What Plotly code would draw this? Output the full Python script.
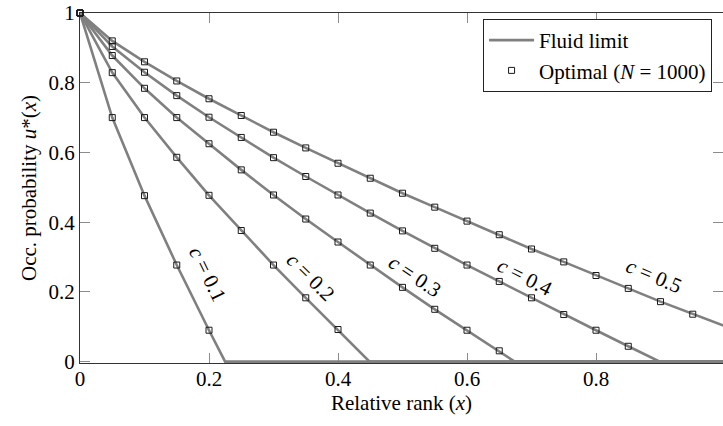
import plotly.graph_objects as go

# ---- data ----
c_values = [0.1, 0.2, 0.3, 0.4, 0.5]
curve_labels = ["<i>c</i> = 0.1", "<i>c</i> = 0.2", "<i>c</i> = 0.3", "<i>c</i> = 0.4", "<i>c</i> = 0.5"]

# fluid limit curves (x, u)
x_c01 = [0, 0.05, 0.10, 0.15, 0.20, 0.225, 1.0]
u_c01 = [1, 0.700, 0.476, 0.277, 0.090, 0, 0]

x_c02 = [0, 0.05, 0.10, 0.15, 0.20, 0.25, 0.30, 0.35, 0.40, 0.449, 1.0]
u_c02 = [1, 0.829, 0.700, 0.586, 0.477, 0.376, 0.277, 0.183, 0.092, 0, 0]

x_c03 = [0, 0.05, 0.10, 0.15, 0.20, 0.25, 0.30, 0.35, 0.40, 0.45, 0.50, 0.55, 0.60, 0.65, 0.674, 1.0]
u_c03 = [1, 0.878, 0.784, 0.700, 0.625, 0.550, 0.478, 0.409, 0.343, 0.277, 0.213, 0.150, 0.090, 0.031, 0, 0]

x_c04 = [0, 0.05, 0.10, 0.15, 0.20, 0.25, 0.30, 0.35, 0.40, 0.45, 0.50, 0.55, 0.60, 0.65, 0.70, 0.75, 0.80, 0.85, 0.899, 1.0]
u_c04 = [1, 0.904, 0.830, 0.763, 0.701, 0.643, 0.585, 0.531, 0.478, 0.426, 0.375, 0.325, 0.277, 0.230, 0.183, 0.135, 0.090, 0.044, 0, 0]

x_c05 = [0, 0.05, 0.10, 0.15, 0.20, 0.25, 0.30, 0.35, 0.40, 0.45, 0.50, 0.55, 0.60, 0.65, 0.70, 0.75, 0.80, 0.85, 0.90, 0.95, 1.0]
u_c05 = [1, 0.920, 0.860, 0.805, 0.754, 0.706, 0.658, 0.613, 0.569, 0.526, 0.483, 0.443, 0.403, 0.364, 0.323, 0.286, 0.247, 0.210, 0.172, 0.136, 0.102]

# optimal policy (N = 1000) markers
opt_x_c01 = [0, 0.05, 0.10, 0.15, 0.20]
opt_u_c01 = [1, 0.700, 0.476, 0.277, 0.090]
opt_x_c02 = [0, 0.05, 0.10, 0.15, 0.20, 0.25, 0.30, 0.35, 0.40]
opt_u_c02 = [1, 0.829, 0.700, 0.586, 0.477, 0.376, 0.277, 0.183, 0.092]
opt_x_c03 = [0, 0.05, 0.10, 0.15, 0.20, 0.25, 0.30, 0.35, 0.40, 0.45, 0.50, 0.55, 0.60, 0.65]
opt_u_c03 = [1, 0.878, 0.784, 0.700, 0.625, 0.550, 0.478, 0.409, 0.343, 0.277, 0.213, 0.150, 0.090, 0.031]
opt_x_c04 = [0, 0.05, 0.10, 0.15, 0.20, 0.25, 0.30, 0.35, 0.40, 0.45, 0.50, 0.55, 0.60, 0.65, 0.70, 0.75, 0.80, 0.85]
opt_u_c04 = [1, 0.904, 0.830, 0.763, 0.701, 0.643, 0.585, 0.531, 0.478, 0.426, 0.375, 0.325, 0.277, 0.230, 0.183, 0.135, 0.090, 0.044]
opt_x_c05 = [0, 0.05, 0.10, 0.15, 0.20, 0.25, 0.30, 0.35, 0.40, 0.45, 0.50, 0.55, 0.60, 0.65, 0.70, 0.75, 0.80, 0.85, 0.90, 0.95]
opt_u_c05 = [1, 0.920, 0.860, 0.805, 0.754, 0.706, 0.658, 0.613, 0.569, 0.526, 0.483, 0.443, 0.403, 0.364, 0.323, 0.286, 0.247, 0.210, 0.172, 0.136]

# label positions (data coords) and angles
label_x = [0.198, 0.358, 0.519, 0.690, 0.890]
label_y = [0.252, 0.244, 0.246, 0.244, 0.246]
label_angle = [64, 45, 34, 27, 23]

x_ticks = [0, 0.2, 0.4, 0.6, 0.8, 1.0]
x_tick_text = ["0", "0.2", "0.4", "0.6", "0.8", "1"]
y_ticks = [0, 0.2, 0.4, 0.6, 0.8, 1.0]
y_tick_text = ["0", "0.2", "0.4", "0.6", "0.8", "1"]

FONT = "Liberation Serif"
FS = 21
LINE_COLOR = "#808080"

fluid = [(x_c01, u_c01), (x_c02, u_c02), (x_c03, u_c03), (x_c04, u_c04), (x_c05, u_c05)]
optimal = [(opt_x_c01, opt_u_c01), (opt_x_c02, opt_u_c02), (opt_x_c03, opt_u_c03),
           (opt_x_c04, opt_u_c04), (opt_x_c05, opt_u_c05)]

fig = go.Figure()
for i, (xs, us) in enumerate(fluid):
    fig.add_trace(go.Scatter(
        x=xs, y=us, mode="lines",
        line=dict(color=LINE_COLOR, width=2.6),
        name="Fluid limit", legendgroup="fluid", showlegend=(i == 0),
        hoverinfo="skip"))
for i, (xs, us) in enumerate(optimal):
    fig.add_trace(go.Scatter(
        x=xs, y=us, mode="markers",
        marker=dict(symbol="square-open", size=6, color="#1a1a1a", line=dict(width=1, color="#1a1a1a")),
        name="Optimal (<i>N</i> = 1000)", legendgroup="opt", showlegend=(i == 0),
        cliponaxis=False, hoverinfo="skip"))

for xl, yl, txt, ang in zip(label_x, label_y, curve_labels, label_angle):
    fig.add_annotation(x=xl, y=yl, text=txt, textangle=ang, showarrow=False,
                       xanchor="center", yanchor="middle",
                       font=dict(family=FONT, size=FS, color="black"))

axis_common = dict(
    showline=True, linecolor="#333333", linewidth=1, mirror="ticks",
    ticks="inside", ticklen=10, tickwidth=1, tickcolor="#8c8c8c",
    showgrid=False, zeroline=False, layer="below traces",
    tickfont=dict(family=FONT, size=FS, color="black"),
)

fig.update_xaxes(range=[0, 0.9969], tickvals=x_ticks, ticktext=x_tick_text,
                 ticklabelstandoff=-3,
                 title=dict(text="Relative rank (<i>x</i>)", font=dict(family=FONT, size=FS, color="black"), standoff=4),
                 **axis_common)
fig.update_yaxes(range=[-0.004, 1], tickvals=y_ticks, ticktext=y_tick_text,
                 title=dict(text="Occ. probability <i>u</i>*(<i>x</i>)", font=dict(family=FONT, size=FS, color="black"), standoff=6),
                 **axis_common)

fig.update_layout(
    width=723, height=426,
    margin=dict(l=80, r=0, t=13, b=63),
    plot_bgcolor="white", paper_bgcolor="white",
    font=dict(family=FONT, size=FS, color="black"),
    legend=dict(x=0.983, y=0.983, xanchor="right", yanchor="top",
                bgcolor="white", bordercolor="#222222", borderwidth=1,
                font=dict(family=FONT, size=FS, color="black"),
                tracegroupgap=0, itemwidth=45),
    showlegend=True,
)

fig.write_html("out.html")
